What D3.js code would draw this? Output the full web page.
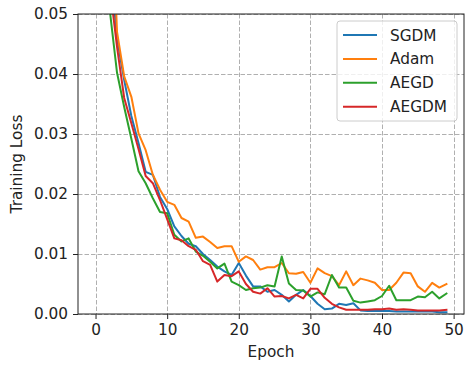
<!DOCTYPE html>
<html>
<head>
<meta charset="utf-8">
<script src="https://cdn.jsdelivr.net/npm/d3@7"></script>
<style>
  html, body { margin: 0; padding: 0; background: #fff; }
  svg { display: block; font-family: "DejaVu Sans", sans-serif; }
</style>
</head>
<body>
<svg id="chart" width="466" height="367"></svg>
<script>
// Training loss per epoch for four optimizers
const epochs = [0,1,2,3,4,5,6,7,8,9,10,11,12,13,14,15,16,17,18,19,20,21,22,23,24,
  25,26,27,28,29,30,31,32,33,34,35,36,37,38,39,40,41,42,43,44,45,46,47,48,49];

const sgdm = [0.30, 0.10, 0.059, 0.046, 0.039, 0.033, 0.0285, 0.0237, 0.0232, 0.0195,
  0.0175, 0.0146, 0.0130, 0.0117, 0.0113, 0.0100, 0.0090, 0.0079, 0.0071, 0.0065,
  0.0085, 0.0064, 0.0046, 0.0046, 0.0037, 0.0040, 0.0032, 0.0021, 0.0032, 0.0040,
  0.0030, 0.0017, 0.0008, 0.0009, 0.0017, 0.0015, 0.0018, 0.0006, 0.0005, 0.0005,
  0.0005, 0.0005, 0.0004, 0.0004, 0.0004, 0.0004, 0.0004, 0.0004, 0.0003, 0.0003];

const adam = [0.28, 0.11, 0.077, 0.047, 0.0396, 0.0362, 0.0301, 0.0273, 0.0232, 0.0207,
  0.0187, 0.0182, 0.0160, 0.0154, 0.0127, 0.0129, 0.0120, 0.0110, 0.0113, 0.0113,
  0.0087, 0.0096, 0.0090, 0.0074, 0.0078, 0.0078, 0.0085, 0.0068, 0.0067, 0.0070,
  0.0052, 0.0076, 0.0068, 0.0063, 0.0048, 0.0071, 0.0048, 0.0059, 0.0056, 0.0052,
  0.0040, 0.0040, 0.0052, 0.0069, 0.0068, 0.0046, 0.0037, 0.0052, 0.0044, 0.0050];

const aegd = [0.25, 0.075, 0.0505, 0.0402, 0.0345, 0.0292, 0.0238, 0.0218, 0.0193, 0.0170,
  0.0168, 0.0132, 0.0121, 0.0126, 0.0104, 0.0097, 0.0087, 0.0076, 0.0084, 0.0054,
  0.0048, 0.0040, 0.0043, 0.0044, 0.0048, 0.0046, 0.0096, 0.0051, 0.0040, 0.0039,
  0.0029, 0.0036, 0.0033, 0.0065, 0.0044, 0.0044, 0.0022, 0.0019, 0.0021, 0.0023,
  0.0030, 0.0047, 0.0023, 0.0023, 0.0023, 0.0029, 0.0028, 0.0037, 0.0026, 0.0034];

const aegdm = [0.27, 0.085, 0.0545, 0.0445, 0.0360, 0.0318, 0.0275, 0.0230, 0.0218, 0.0190,
  0.0158, 0.0126, 0.0123, 0.0113, 0.0107, 0.0088, 0.0082, 0.0054, 0.0065, 0.0063,
  0.0071, 0.0050, 0.0037, 0.0034, 0.0043, 0.0029, 0.0030, 0.0026, 0.0032, 0.0026,
  0.0042, 0.0042, 0.0027, 0.0017, 0.0011, 0.0007, 0.0007, 0.0007, 0.0007, 0.0008,
  0.0008, 0.0009, 0.0007, 0.0008, 0.0007, 0.0006, 0.0006, 0.0006, 0.0006, 0.0007];

const seriesNames = ["SGDM", "Adam", "AEGD", "AEGDM"];
const seriesColors = ["#1f77b4", "#ff7f0e", "#2ca02c", "#d62728"];
const seriesValues = [sgdm, adam, aegd, aegdm];

const xTicks = [0, 10, 20, 30, 40, 50];
const yTicks = [0, 0.01, 0.02, 0.03, 0.04, 0.05];

const FONT = 15.3;
const svg = d3.select("#chart");
const plotL = 78, plotR = 464, plotT = 14, plotB = 314;

const x = d3.scaleLinear().domain([-2.45, 51.45]).range([plotL, plotR]);
const y = d3.scaleLinear().domain([0, 0.05]).range([plotB, plotT]);

// clip region for the plotted lines
svg.append("defs").append("clipPath").attr("id", "plotArea")
  .append("rect").attr("x", plotL).attr("y", plotT)
  .attr("width", plotR - plotL).attr("height", plotB - plotT);

// dashed grid
const grid = svg.append("g").attr("stroke", "#b0b0b0").attr("stroke-width", 1)
  .attr("stroke-dasharray", "4.5,2");
grid.selectAll("line.vx").data(xTicks).join("line")
  .attr("x1", d => Math.round(x(d)) + 0.5).attr("x2", d => Math.round(x(d)) + 0.5)
  .attr("y1", plotT).attr("y2", plotB);
grid.selectAll("line.hy").data(yTicks).join("line")
  .attr("y1", d => Math.round(y(d)) + 0.5).attr("y2", d => Math.round(y(d)) + 0.5)
  .attr("x1", plotL).attr("x2", plotR);

// loss curves
const line = d3.line().x((d, i) => x(epochs[i])).y(d => y(d));
const curves = svg.append("g").attr("clip-path", "url(#plotArea)");
seriesValues.forEach((vals, k) => {
  curves.append("path").datum(vals)
    .attr("d", line)
    .attr("fill", "none")
    .attr("stroke", seriesColors[k])
    .attr("stroke-width", 2)
    .attr("stroke-linejoin", "round")
    .attr("stroke-linecap", "square");
});

// axes
const xAxis = svg.append("g").attr("transform", `translate(0,${plotB})`)
  .call(d3.axisBottom(x).tickValues(xTicks).tickSize(5).tickPadding(5).tickFormat(d3.format("d")));
const yAxis = svg.append("g").attr("transform", `translate(${plotL},0)`)
  .call(d3.axisLeft(y).tickValues(yTicks).tickSize(5).tickPadding(5).tickFormat(d3.format(".2f")));
[xAxis, yAxis].forEach(g => {
  g.select(".domain").remove();
  g.selectAll(".tick line").attr("stroke", "#222").attr("stroke-width", 1);
  g.selectAll(".tick text").attr("fill", "#222")
    .style("font-size", FONT + "px").style("font-family", "DejaVu Sans");
});

// frame
svg.append("rect").attr("x", plotL).attr("y", plotT)
  .attr("width", plotR - plotL).attr("height", plotB - plotT)
  .attr("fill", "none").attr("stroke", "#222").attr("stroke-width", 1);

// axis titles
svg.append("text").attr("x", (plotL + plotR) / 2).attr("y", 357)
  .attr("text-anchor", "middle").attr("fill", "#222")
  .style("font-size", FONT + "px").text("Epoch");
svg.append("text").attr("transform", `translate(22,${(plotT + plotB) / 2}) rotate(-90)`)
  .attr("text-anchor", "middle").attr("fill", "#222")
  .style("font-size", FONT + "px").text("Training Loss");

// legend
const lg = svg.append("g");
lg.append("rect").attr("x", 337).attr("y", 21).attr("width", 120).attr("height", 100)
  .attr("rx", 3).attr("fill", "#fff").attr("fill-opacity", 0.8)
  .attr("stroke", "#cccccc").attr("stroke-width", 1);
seriesNames.forEach((name, k) => {
  const ly = 35 + k * 23.9;
  lg.append("line").attr("x1", 343).attr("x2", 377).attr("y1", ly).attr("y2", ly)
    .attr("stroke", seriesColors[k]).attr("stroke-width", 2);
  lg.append("text").attr("x", 390).attr("y", ly).attr("dy", "0.36em")
    .attr("fill", "#222").style("font-size", FONT + "px").text(name);
});
</script>
</body>
</html>
